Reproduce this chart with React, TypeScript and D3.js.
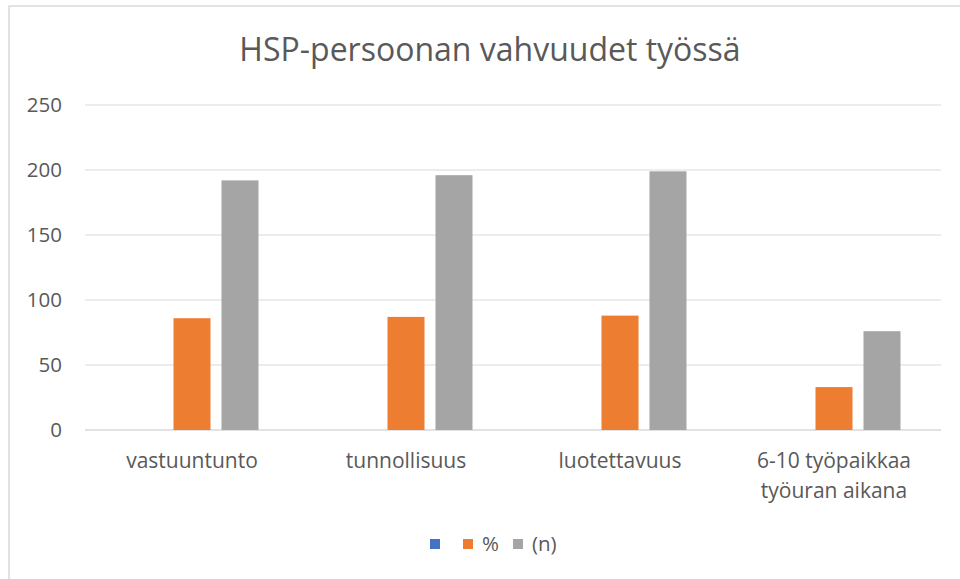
import React from "react"
import * as d3 from "d3"

const categories = [
  ["vastuuntunto"],
  ["tunnollisuus"],
  ["luotettavuus"],
  ["6-10 työpaikkaa", "työuran aikana"],
]
const seriesNames = ["", "%", "(n)"]
const seriesColors = ["#4472C4", "#ED7D31", "#A5A5A5"]
// first series is empty in the source chart
const blankValues: (number | null)[] = [null, null, null, null]
const percentValues = [86, 87, 88, 33]
const countValues = [192, 196, 199, 76]
const yTicks = [0, 50, 100, 150, 200, 250]

const W = 960
const H = 579
const font = "'Open Sans', sans-serif"
const textColor = "#595959"

export default function App() {
  const seriesValues = [blankValues, percentValues, countValues]
  const catKeys = categories.map(c => c.join(" "))

  const x0 = d3.scaleBand().domain(catKeys).range([85, 941]).padding(0)
  const inner = (x0.bandwidth() - 133) / 2
  const x1 = d3
    .scaleBand()
    .domain(seriesNames.map((_, i) => String(i)))
    .range([inner, x0.bandwidth() - inner])
    .paddingInner(0.229)
  const y = d3.scaleLinear().domain([0, 250]).range([430, 105])

  return (
    <svg width={W} height={H} style={{ position: "absolute", left: 0, top: 0, background: "#fff" }}>
      <rect x={9} y={6} width={W + 10} height={H + 10} fill="#fff" stroke="#D9D9D9" strokeWidth={1.5} />
      <text x={490} y={61} textAnchor="middle" fontFamily={font} fontSize={32} fill={textColor}>
        HSP-persoonan vahvuudet työssä
      </text>

      {yTicks.map(t => (
        <g key={t}>
          <line x1={85} x2={941} y1={y(t)} y2={y(t)} stroke="#D9D9D9" strokeWidth={t === 0 ? 1.5 : 1.2} />
          <text x={62} y={y(t)} dy="0.35em" textAnchor="end" fontFamily={font} fontSize={20.5} fill={textColor}>
            {t}
          </text>
        </g>
      ))}

      {catKeys.map((k, ci) => (
        <g key={k} transform={`translate(${x0(k)},0)`}>
          {seriesValues.map((vals, si) => {
            const v = vals[ci]
            if (v == null) return null
            return (
              <rect
                key={si}
                x={x1(String(si))}
                y={y(v)}
                width={x1.bandwidth()}
                height={y(0) - y(v)}
                fill={seriesColors[si]}
              />
            )
          })}
          {categories[ci].map((line, li) => (
            <text
              key={li}
              x={x0.bandwidth() / 2}
              y={468 + li * 30}
              textAnchor="middle"
              fontFamily={font}
              fontSize={21}
              fill={textColor}
            >
              {line}
            </text>
          ))}
        </g>
      ))}

      <g fontFamily={font} fontSize={20.5} fill={textColor}>
        <rect x={430} y={539} width={10} height={10} fill={seriesColors[0]} />
        <rect x={463} y={539} width={10} height={10} fill={seriesColors[1]} />
        <text x={482} y={544} dy="0.35em">{seriesNames[1]}</text>
        <rect x={513} y={539} width={10} height={10} fill={seriesColors[2]} />
        <text x={532} y={544} dy="0.35em">{seriesNames[2]}</text>
      </g>
    </svg>
  )
}
